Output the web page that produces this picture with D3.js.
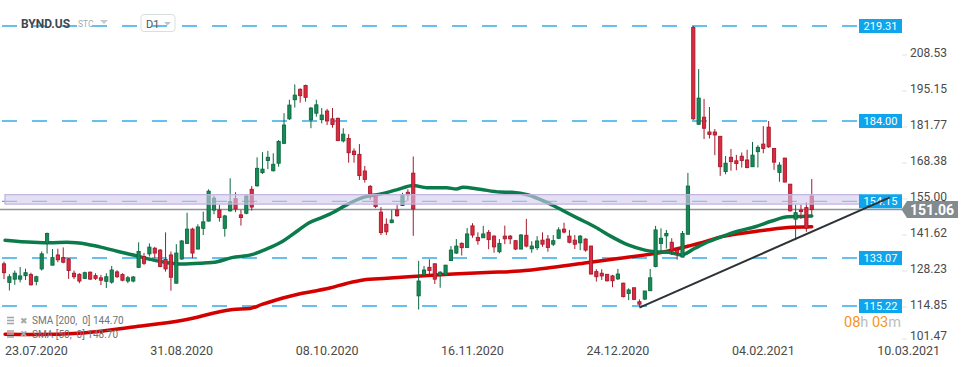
<!DOCTYPE html>
<html><head><meta charset="utf-8">
<script src="https://cdn.jsdelivr.net/npm/d3@7"></script>
<style>html,body{margin:0;padding:0;background:#fff;overflow:hidden}svg{display:block;font-family:Roboto,"Open Sans",sans-serif}</style>
</head><body><svg id="chart" width="970" height="367"></svg>
<script>
// ---- data (BYND.US, D1) ----
const opens=[130.9,124.0,125.2,125.2,126.5,126.9,124.4,129.0,138.5,130.4,
134.2,133.2,132.7,127.4,127.0,125.5,127.8,126.5,125.7,124.4,
124.1,127.9,126.9,124.5,124.5,129.6,133.6,134.6,136.7,136.0,
132.5,134.2,123.7,132.7,138.5,143.8,136.4,144.1,146.8,150.9,
150.9,144.1,150.6,155.1,149.1,149.7,158.6,159.9,164.8,169.3,
165.5,168.3,175.7,184.8,191.9,195.8,197.2,184.4,186.9,184.5,
187.7,184.8,185.0,176.6,177.5,172.8,171.6,165.4,159.7,156.1,
150.1,145.6,146.2,150.9,152.6,157.5,164.6,119.0,126.8,129.6,
130.9,126.6,126.8,132.1,134.9,138.5,137.0,145.0,140.7,140.6,
142.6,141.2,135.4,141.2,141.2,139.5,136.4,141.5,136.5,136.9,
139.7,140.1,138.2,140.4,143.8,141.2,139.7,138.7,140.1,137.5,
128.0,127.4,127.0,126.4,125.3,123.7,119.9,122.0,116.8,117.8,
120.9,129.9,138.5,141.3,138.9,136.0,133.4,141.9,218.8,182.8,
185.4,179.9,179.9,178.3,165.2,170.5,169.2,170.9,169.5,167.0,
172.6,175.4,181.7,173.8,164.9,170.2,160.5,147.5,150.9,151.8,
156.1];
const highs=[131.7,127.1,128.4,129.7,129.1,127.6,126.5,135.5,142.5,136.4,
136.5,137.0,133.0,128.4,127.4,128.0,128.0,127.4,126.8,127.4,
130.1,128.5,127.4,126.4,126.4,138.9,134.9,138.5,137.2,136.4,
142.6,135.5,138.2,139.7,149.9,144.3,145.6,150.3,158.6,156.2,
152.8,149.1,162.7,157.5,150.9,156.3,159.8,170.5,172.4,172.9,
172.0,176.9,186.9,191.9,197.6,196.1,197.5,189.2,191.9,188.8,
188.5,188.8,185.2,181.3,179.1,173.8,175.4,167.3,160.2,156.8,
152.0,147.8,150.9,152.8,157.3,158.6,170.8,132.0,130.1,132.6,
131.1,128.1,130.5,137.5,140.1,138.9,144.2,146.0,142.6,145.0,
143.5,141.5,140.1,145.1,141.6,139.7,142.0,147.6,139.3,141.2,
142.6,141.6,141.6,144.5,146.2,143.5,141.6,141.6,140.4,137.6,
128.9,128.9,127.1,126.8,129.0,123.9,121.8,122.0,117.7,120.8,
129.0,145.0,144.1,143.5,140.4,137.2,143.1,164.7,219.31,203.3,
192.2,189.2,181.0,178.4,171.0,173.6,171.4,172.3,173.3,176.2,
175.0,182.1,184.0,173.9,168.7,170.3,160.6,152.9,152.8,153.8,
162.4];
const lows=[125.2,121.0,123.1,124.0,124.9,122.8,122.9,128.4,134.7,130.3,
131.5,131.1,125.3,125.2,123.7,125.3,125.0,124.9,123.0,121.9,
123.5,125.7,124.4,123.7,124.0,129.3,130.5,133.6,133.0,129.6,
128.0,120.9,123.6,132.4,138.4,133.0,136.3,141.6,146.6,149.3,
146.6,141.0,150.3,150.1,145.1,149.3,150.7,159.6,164.3,166.1,
165.2,167.0,175.4,184.4,189.0,190.8,191.2,181.3,185.6,183.1,
182.5,181.5,176.6,176.0,168.5,168.5,162.1,161.1,154.7,151.6,
141.6,141.6,146.0,148.4,152.4,154.3,141.3,113.9,126.4,127.1,
123.4,122.0,126.5,132.0,134.6,134.0,136.9,140.6,138.0,140.5,
136.3,135.0,134.8,138.2,138.2,136.0,136.3,137.0,135.0,136.0,
137.2,135.4,137.5,140.1,142.2,138.5,136.4,136.0,135.4,127.0,
124.3,124.9,124.3,122.2,124.9,118.4,117.4,117.4,115.0,117.4,
120.9,129.6,135.4,136.6,134.2,132.4,133.3,141.8,184.4,182.5,
177.3,177.5,171.3,163.6,164.2,165.5,165.7,166.7,166.4,166.9,
166.7,172.0,174.0,165.8,161.4,161.2,150.3,139.7,147.6,142.8,
149.1];
const closes=[127.6,126.1,127.4,126.4,127.6,123.1,126.1,134.6,142.2,133.2,
132.4,131.5,128.4,126.1,124.5,127.6,125.2,125.5,124.8,126.1,
128.6,126.1,124.8,125.7,126.0,135.5,131.1,137.1,134.9,129.9,
129.0,125.9,134.9,139.4,143.8,134.9,144.6,146.5,157.9,155.3,
148.1,148.7,154.0,151.3,148.1,156.1,152.0,166.4,166.1,170.5,
167.9,176.4,182.5,189.9,193.6,193.4,192.8,188.8,190.0,186.2,
184.0,182.7,176.7,179.1,172.2,171.5,163.7,162.3,156.8,152.2,
142.5,142.8,147.2,148.8,156.5,156.5,151.3,124.5,128.6,128.4,
125.2,127.8,130.4,136.0,137.5,136.9,142.0,141.6,139.5,142.0,
139.9,137.2,138.5,140.2,140.2,136.4,141.6,137.5,137.5,139.4,
138.2,137.0,139.5,143.5,142.7,138.9,138.2,141.2,136.0,127.1,
126.1,126.4,124.6,124.6,127.1,118.7,121.2,117.7,115.9,120.8,
125.7,143.5,140.4,142.2,136.0,134.9,142.2,159.8,184.8,192.5,
181.3,179.0,178.8,167.0,168.3,168.9,168.2,169.3,166.7,171.3,
174.2,173.8,174.4,168.7,167.6,161.3,150.6,149.9,150.3,144.1,
151.06];

// SMA lines (candle index, value)
const sma50Idx=[0.2,5.4,8.5,11.7,15.4,17.8,21,24,27.1,30.3,33,36.4,39.6,42.3,46,48.5,51.6,54.6,56.5,59,60.5,63.6,66.7,69.8,72.9,76,78.5,82.2,84,85.2,88.4,92.1,94.3,97.4,100.5,103.6,106.6,109.7,112.8,115.9,119,120.9,123.4,125.8,128.3,130.8,133.3,136.4,139.5,142.6,145.6,148.1,150];
const sma50Val=[139.7,138.9,138.7,138.9,138.2,137.2,135.6,134.2,132.6,131.3,130.8,131.1,131.7,133.2,134.3,136.2,139.1,143.3,146.0,148.1,149.4,152.8,155.6,156.8,158.4,160.0,159.2,159.2,158.7,159.4,158.6,157.6,157.5,156.5,154.0,150.9,147.8,144.7,141.0,137.9,136.0,135.4,135.2,134.2,136.7,139.1,141.0,143.1,144.7,146.8,148.4,148.5,148.7];
const sma200Idx=[0.2,5.4,14.7,24,33.2,42.5,45.7,47.9,51.8,54.6,57.8,60.5,63.6,66.7,71.1,77.3,83.4,89.6,95.8,102,108.2,114.4,122.7,127.1,130.2,133.3,139.5,145.6,150];
const sma200Val=[104.7,104.6,105.2,107.4,109.9,113.9,114.3,115.8,118.2,119.6,120.8,121.9,123.6,124.9,125.5,126.4,127.1,127.7,128.2,129.6,131.3,133.0,135.4,137.5,139.1,141.0,142.9,144.4,144.7];

const levels=[219.31,184.00,154.15,133.07,115.22];
const zoneBand=[153.1,156.6];
const trendIdx=[118,164.5];
const trendVal=[114.6,155.6];
const lastPrice=151.06;
const yTicks=[208.53,195.15,181.77,168.38,155.00,141.62,128.23,114.85,101.47];
const dateLabels=["23.07.2020","31.08.2020","08.10.2020","16.11.2020","24.12.2020","04.02.2021","10.03.2021"];
const dateIdx=[6,33,60,87,114,141,168];

// ---- drawing ----
const svg=d3.select("#chart");
const x=d3.scaleLinear().domain([0,168]).range([4,908.68]);
const y=d3.scaleLinear().domain([115.22,219.31]).range([306,26]);
const blue="#33ace9";

// level dashed lines
svg.append("g").selectAll("line").data(levels).join("line")
  .attr("x1",2).attr("x2",858)
  .attr("y1",d=>y(d)).attr("y2",d=>y(d))
  .attr("stroke",blue).attr("stroke-width",1.3).attr("stroke-dasharray","15 15");

// current price line
svg.append("line").attr("x1",0).attr("x2",903).attr("y1",y(lastPrice)).attr("y2",y(lastPrice))
  .attr("stroke","#8d9396").attr("stroke-width",1.5);

// SMA lines
const line=d3.line().curve(d3.curveMonotoneX);
svg.append("path").attr("d",line(sma200Idx.map((d,i)=>[x(d),y(sma200Val[i])])))
  .attr("fill","none").attr("stroke","#d40000").attr("stroke-width",3.5).attr("stroke-linecap","round");
svg.append("path").attr("d",line(sma50Idx.map((d,i)=>[x(d),y(sma50Val[i])])))
  .attr("fill","none").attr("stroke","#0b7b4c").attr("stroke-width",3.5).attr("stroke-linecap","round");

// candles
const candles=opens.map((o,i)=>({i,o,h:highs[i],l:lows[i],c:closes[i]}));
const cg=svg.append("g");
candles.forEach(d=>{
  const up=d.c>=d.o;
  const fill=up?"#188a56":"#dd2a3f", edge=up?"#0c6840":"#a51a2c";
  const cx=x(d.i);
  cg.append("line").attr("x1",cx).attr("x2",cx).attr("y1",y(d.h)).attr("y2",y(d.l))
    .attr("stroke",edge).attr("stroke-width",1);
  const top=y(Math.max(d.o,d.c)), bot=y(Math.min(d.o,d.c));
  cg.append("rect").attr("x",cx-1.6).attr("width",3.2)
    .attr("y",top).attr("height",Math.max(1,bot-top))
    .attr("fill",fill).attr("stroke",edge).attr("stroke-width",0.9);
});

// zone band (semi-transparent, above candles)
svg.append("rect").attr("x",5).attr("width",855)
  .attr("y",y(zoneBand[1])).attr("height",y(zoneBand[0])-y(zoneBand[1]))
  .attr("fill","rgb(212,202,236)").attr("fill-opacity",0.6)
  .attr("stroke","#bfb1de").attr("stroke-width",1.2);

// level label boxes
const lb=svg.append("g").selectAll("g").data(levels).join("g");
lb.append("rect").attr("x",859).attr("width",43).attr("y",d=>y(d)-7).attr("height",14).attr("fill","#0ea5ec");
lb.append("text").attr("x",880.5).attr("y",d=>y(d)).attr("dy","0.36em").attr("text-anchor","middle")
  .attr("fill","#fff").attr("font-size",11).text(d=>d.toFixed(2));

// trendline
svg.append("line").attr("x1",x(trendIdx[0])).attr("y1",y(trendVal[0]))
  .attr("x2",x(trendIdx[1])).attr("y2",y(trendVal[1]))
  .attr("stroke","#2d3237").attr("stroke-width",2);

// right axis
const ya=svg.append("g");
yTicks.forEach(v=>{
  const yy=Math.min(y(v),339);
  ya.append("line").attr("x1",902).attr("x2",907).attr("y1",yy).attr("y2",yy).attr("stroke","#e2e2e2");
  ya.append("text").attr("x",910).attr("y",Math.min(yy-2.5,336)).attr("dy","0.36em")
    .attr("font-size",12).attr("fill","#4a4a4a").text(v.toFixed(2));
});

// last price tag
const ly=y(lastPrice);
svg.append("path").attr("d",`M901.5,${ly} L907,${ly-8.5} L958,${ly-8.5} L958,${ly+8.5} L907,${ly+8.5} Z`).attr("fill","#848b8f");
svg.append("text").attr("x",932).attr("y",ly+0.5).attr("dy","0.36em").attr("text-anchor","middle")
  .attr("fill","#fff").attr("font-size",14).attr("font-weight","bold").text(lastPrice.toFixed(2));

// date axis
svg.append("g").selectAll("text").data(dateLabels).join("text")
  .attr("x",(d,i)=>x(dateIdx[i])).attr("y",350.5).attr("dy","0.36em").attr("text-anchor","middle")
  .attr("font-size",12.5).attr("fill","#4a4a4a").text(d=>d);

// header
svg.append("text").attr("x",21).attr("y",28).attr("font-size",12).attr("font-weight","bold").attr("fill","#3d4852").text("BYND.US");
svg.append("text").attr("x",78).attr("y",27).attr("font-size",8.5).attr("fill","#a3abb1").text("STC");
svg.append("path").attr("d","M100,20 L108,20 L104,24 Z").attr("fill","#c4cacd");
svg.append("rect").attr("x",141).attr("y",14.5).attr("width",34).attr("height",17).attr("rx",3)
  .attr("fill","none").attr("stroke","#d9dee1");
svg.append("text").attr("x",146).attr("y",27.5).attr("font-size",11).attr("fill","#4a5560").text("D1");
svg.append("path").attr("d","M164,22 L171,22 L167.5,25.5 Z").attr("fill","#bcc3c7");

// legend
const legendRows=["SMA [200,  0] 144.70","SMA [50,  0] 148.70"];
legendRows.forEach((t,k)=>{
  const yy=320.5+k*13.5;
  const g=svg.append("g");
  [ -3,0,3 ].forEach(o=>g.append("rect").attr("x",7).attr("y",yy+o-0.8).attr("width",7).attr("height",1.6).attr("fill","#a3a8ab"));
  g.append("text").attr("x",20).attr("y",yy).attr("dy","0.36em").attr("font-size",9).attr("fill","#a3a8ab").text("✖");
  g.append("text").attr("x",32).attr("y",yy).attr("dy","0.36em").attr("font-size",10).attr("fill","#6f7477")
    .style("white-space","pre").text(t);
});

// countdown
const cd=svg.append("text").attr("x",844).attr("y",322).attr("dy","0.36em").attr("font-size",14.5);
cd.append("tspan").attr("fill","#f7941d").text("08");
cd.append("tspan").attr("fill","#b9bec1").text("h ");
cd.append("tspan").attr("fill","#f7941d").text("03");
cd.append("tspan").attr("fill","#b9bec1").text("m");
</script></body></html>
